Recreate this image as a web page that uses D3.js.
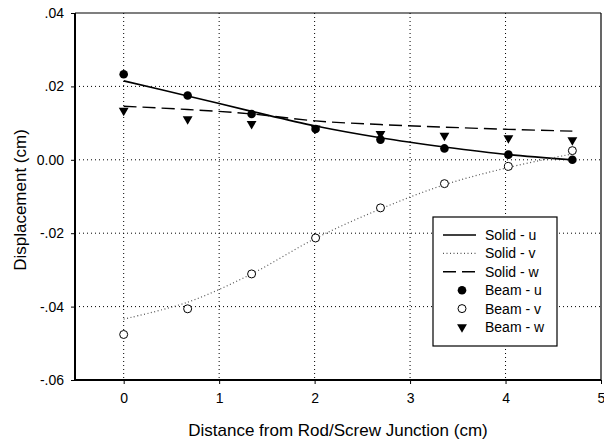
<!DOCTYPE html>
<html>
<head>
  <meta charset="UTF-8">
  <title>Displacement chart</title>
  <script src="https://cdn.jsdelivr.net/npm/d3@7"></script>
  <style>
    body { margin: 0; background: #fff; }
    svg text { font-family: "Liberation Sans", Arial, sans-serif; fill: #000; }
  </style>
</head>
<body>
<div id="chart"></div>
<script>
// distances along the screw (cm)
var dist = [0, 0.67, 1.34, 2.01, 2.69, 3.36, 4.03, 4.70];

// solid model curves
var solidU = [0.0215, 0.0174, 0.0132, 0.0092, 0.0060, 0.0035, 0.0014, 0.0000];
var solidV = [-0.0434, -0.0388, -0.0311, -0.0214, -0.0134, -0.0068, -0.0021, 0.0016];
var solidW = [0.0146, 0.0137, 0.0125, 0.0106, 0.0096, 0.0089, 0.0083, 0.0078];

// beam model points
var beamU = [0.0233, 0.0175, 0.0125, 0.0084, 0.0055, 0.0031, 0.0014, 0.0000];
var beamV = [-0.0476, -0.0406, -0.0311, -0.0213, -0.0131, -0.0065, -0.0018, 0.0025];
var beamW = [0.0134, 0.0111, 0.0098, 0.0086, 0.0071, 0.0066, 0.0059, 0.0054];

var xTicks = [0, 1, 2, 3, 4, 5];
var yTicks = [0.04, 0.02, 0, -0.02, -0.04, -0.06];
var yTickLabels = [".04", ".02", "0.00", "-.02", "-.04", "-.06"];

var legendItems = ["Solid - u", "Solid - v", "Solid - w", "Beam - u", "Beam - v", "Beam - w"];

// note: "top" is a window global, so margins get their own names
var W = 604, H = 444;
var pl = 75, pr = 601, pt = 13, pb = 380;

var svg = d3.select("#chart").append("svg")
    .attr("width", W).attr("height", H);

var x = d3.scaleLinear().domain([-0.51, 5]).range([pl, pr]);
var y = d3.scaleLinear().domain([-0.06, 0.04]).range([pb, pt]);

// grid
svg.append("g").selectAll("line")
  .data([0, 1, 2, 3, 4]).enter().append("line")
    .attr("x1", function(d) { return x(d); }).attr("x2", function(d) { return x(d); })
    .attr("y1", pt).attr("y2", pb)
    .attr("stroke", "#000").attr("stroke-width", 1)
    .attr("stroke-dasharray", "1,3");
svg.append("g").selectAll("line")
  .data([0.02, 0, -0.02, -0.04]).enter().append("line")
    .attr("y1", function(d) { return y(d); }).attr("y2", function(d) { return y(d); })
    .attr("x1", pl).attr("x2", pr)
    .attr("stroke", "#000").attr("stroke-width", 1)
    .attr("stroke-dasharray", "1,3");

// frame
svg.append("line").attr("x1", pl).attr("x2", pr).attr("y1", pt).attr("y2", pt)
  .attr("stroke", "#000").attr("stroke-width", 1.2);
svg.append("line").attr("x1", pr).attr("x2", pr).attr("y1", pt).attr("y2", pb)
  .attr("stroke", "#000").attr("stroke-width", 1.2);

// axes
var xAxis = d3.axisBottom(x).tickValues(xTicks).tickSize(4).tickPadding(9)
  .tickFormat(d3.format("d"));
var gx = svg.append("g").attr("transform", "translate(0," + pb + ")").call(xAxis);
gx.select(".domain").attr("d", "M" + pl + ",0H" + pr).attr("stroke-width", 2);
gx.selectAll("text").style("font-size", "14px");

var yAxis = d3.axisLeft(y).tickValues(yTicks).tickSize(4).tickPadding(7)
  .tickFormat(function(d, i) { return yTickLabels[i]; });
var gy = svg.append("g").attr("transform", "translate(" + pl + ",0)").call(yAxis);
gy.select(".domain").attr("d", "M0," + pt + "V" + pb).attr("stroke-width", 2);
gy.selectAll("text").style("font-size", "14px");

// axis titles
svg.append("text")
  .attr("x", 338).attr("y", 436)
  .attr("text-anchor", "middle").style("font-size", "17px")
  .text("Distance from Rod/Screw Junction (cm)");
svg.append("text")
  .attr("transform", "translate(26,200) rotate(-90)")
  .attr("text-anchor", "middle").style("font-size", "17px")
  .text("Displacement (cm)");

// solid curves
function lineOf(vals) {
  return d3.line()
    .x(function(d, i) { return x(dist[i]); })
    .y(function(d) { return y(d); })
    .curve(d3.curveCatmullRom)(vals);
}
svg.append("path").attr("d", lineOf(solidU))
  .attr("fill", "none").attr("stroke", "#000").attr("stroke-width", 1.6);
svg.append("path").attr("d", lineOf(solidV))
  .attr("fill", "none").attr("stroke", "#555").attr("stroke-width", 1.2)
  .attr("stroke-dasharray", "1,2.5");
svg.append("path").attr("d", lineOf(solidW))
  .attr("fill", "none").attr("stroke", "#000").attr("stroke-width", 1.4)
  .attr("stroke-dasharray", "13,6");

// beam markers
var tri = d3.symbol().type(d3.symbolTriangle).size(42);
svg.append("g").selectAll("path")
  .data(beamW).enter().append("path")
    .attr("d", tri)
    .attr("transform", function(d, i) { return "translate(" + x(dist[i]) + "," + y(d) + ") rotate(180)"; })
    .attr("fill", "#000");
svg.append("g").selectAll("circle")
  .data(beamU).enter().append("circle")
    .attr("cx", function(d, i) { return x(dist[i]); })
    .attr("cy", function(d) { return y(d); })
    .attr("r", 4.3).attr("fill", "#000");
svg.append("g").selectAll("circle")
  .data(beamV).enter().append("circle")
    .attr("cx", function(d, i) { return x(dist[i]); })
    .attr("cy", function(d) { return y(d); })
    .attr("r", 4).attr("fill", "#fff").attr("stroke", "#000").attr("stroke-width", 1);

// legend
var lg = svg.append("g").attr("transform", "translate(433,217)");
lg.append("rect").attr("width", 124).attr("height", 129)
  .attr("fill", "#fff").attr("stroke", "#000").attr("stroke-width", 1.2);
var rowY = function(i) { return 18 + i * 18.4; };
lg.selectAll("text").data(legendItems).enter().append("text")
  .attr("x", 52).attr("y", function(d, i) { return rowY(i) + 5; })
  .style("font-size", "14px")
  .text(function(d) { return d; });
lg.append("line").attr("x1", 10).attr("x2", 43).attr("y1", rowY(0)).attr("y2", rowY(0))
  .attr("stroke", "#000").attr("stroke-width", 1.6);
lg.append("line").attr("x1", 10).attr("x2", 43).attr("y1", rowY(1)).attr("y2", rowY(1))
  .attr("stroke", "#555").attr("stroke-width", 1.2).attr("stroke-dasharray", "1,2.5");
lg.append("line").attr("x1", 10).attr("x2", 43).attr("y1", rowY(2)).attr("y2", rowY(2))
  .attr("stroke", "#000").attr("stroke-width", 1.4).attr("stroke-dasharray", "13,6");
lg.append("circle").attr("cx", 29).attr("cy", rowY(3)).attr("r", 4.3).attr("fill", "#000");
lg.append("circle").attr("cx", 29).attr("cy", rowY(4)).attr("r", 4)
  .attr("fill", "#fff").attr("stroke", "#000");
lg.append("path").attr("d", tri)
  .attr("transform", "translate(29," + rowY(5) + ") rotate(180)").attr("fill", "#000");
</script>
</body>
</html>
